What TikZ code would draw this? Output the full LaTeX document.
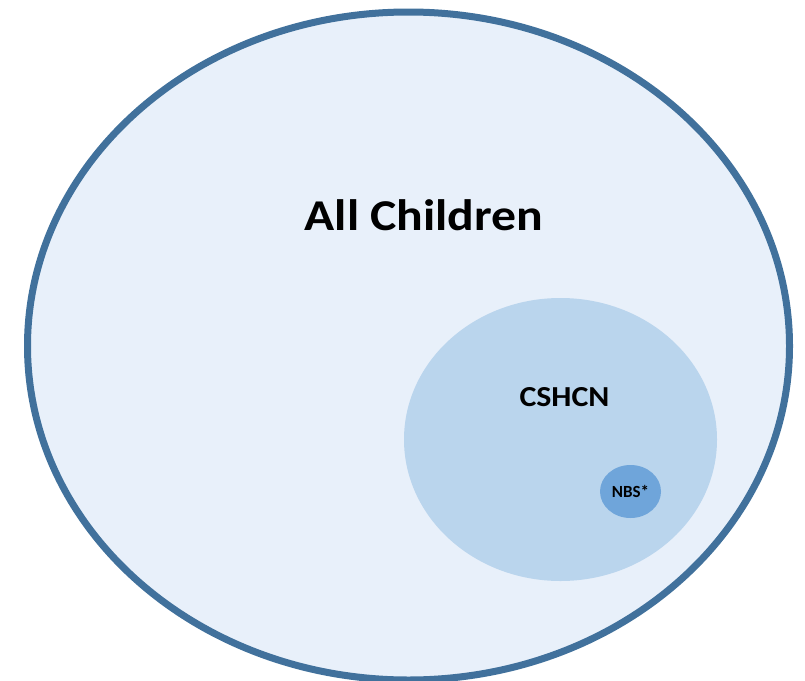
\documentclass[tikz,border=0pt]{standalone}
\usepackage{fontspec}
\setmainfont{Carlito}
\definecolor{outerline}{HTML}{41719C}
\definecolor{outerfill}{HTML}{E8F0FA}
\definecolor{midfill}{HTML}{BAD5ED}
\definecolor{innerfill}{HTML}{6FA5DA}
\begin{document}
\begin{tikzpicture}[x=1pt,y=-1pt,
  lbl/.style={text=black, inner sep=0pt}]
\useasboundingbox (0,0) rectangle (805,680);
\fill[outerfill, draw=outerline, line width=7pt] (408.5,346) ellipse [x radius=381, y radius=334];
\fill[midfill] (560.5,439.5) ellipse [x radius=156.5, y radius=141.5];
\fill[innerfill] (630.5,491.5) ellipse [x radius=30.5, y radius=26.5];
\node[lbl, xscale=1.13, font=\bfseries\fontsize{44}{52}\selectfont] (all) at (424,215) {All Children};
\node[lbl, xscale=1.1, font=\bfseries\fontsize{29}{34}\selectfont] (cshcn) at (564.5,397.5) {CSHCN};
\node[lbl, font=\bfseries\fontsize{17}{20}\selectfont] (nbs) at (630.5,491.5) {NBS*};
\end{tikzpicture}
\end{document}
